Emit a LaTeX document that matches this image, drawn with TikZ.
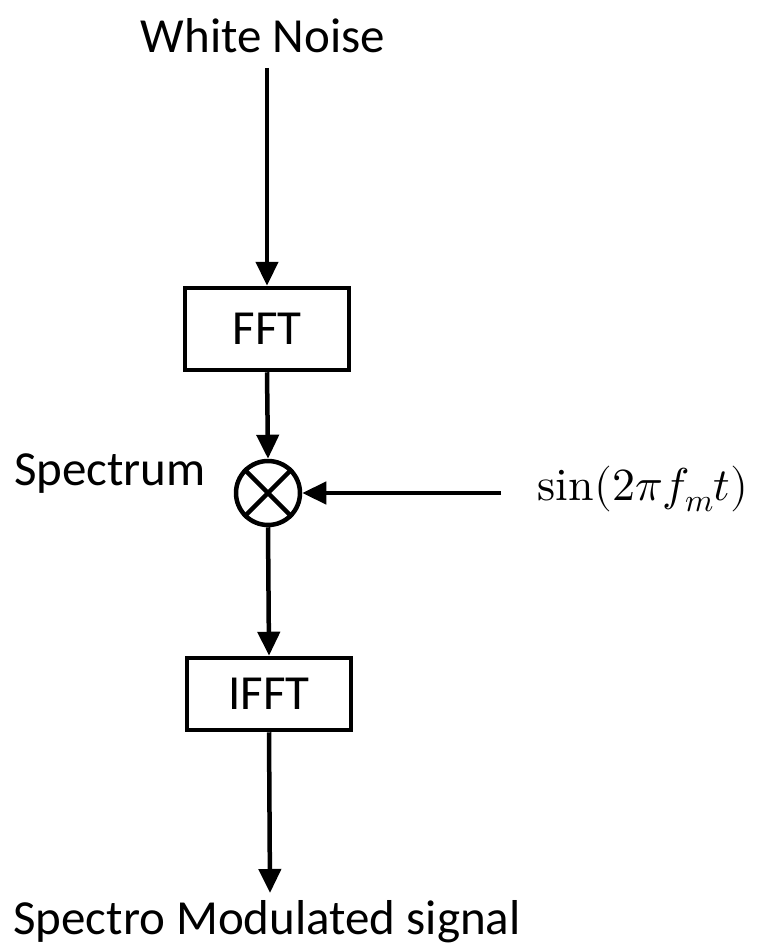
\documentclass[tikz,border=0pt]{standalone}
\usepackage{fontspec}
\usepackage{unicode-math}
\setmainfont{Carlito}
\setmathfont{Latin Modern Math}
\usetikzlibrary{arrows.meta}
\begin{document}
\begin{tikzpicture}[x=1pt,y=-1pt,
  lbl/.style={font=\fontsize{49}{56}\selectfont, inner sep=0pt},
  blk/.style={draw, line width=4.5pt, minimum width=164pt, font=\fontsize{49}{56}\selectfont},
  conn/.style={line width=4.5pt, -{Triangle[width=22pt,length=24pt]}}]
\useasboundingbox (0,0) rectangle (762,947);
\node[lbl] (wn) at (263,36) {White Noise};
\coordinate (wnb) at (267,68);
\node[blk, minimum height=82pt] (fft) at (267,329) {FFT};
\node[draw, circle, line width=4.5pt, minimum size=64pt, inner sep=0pt] (mix) at (268,493) {};
\draw[line width=4.5pt] (mix.45) -- (mix.225) (mix.135) -- (mix.315);
\node[lbl] (spec) at (110,474) {Spectrum};
\node[lbl, font=\fontsize{46}{52}\selectfont] (sin) at (643,489) {$\symup{sin}(2\pi f_m t)$};
\coordinate (sinl) at (501,493);
\node[blk, minimum height=72pt] (ifft) at (269,694) {IFFT};
\coordinate (outb) at (270,893);
\node[lbl] (out) at (267,922) {Spectro Modulated signal};
\draw[conn] (wnb) -- (fft.north);
\draw[conn] (fft.south) -- (mix.north);
\draw[conn] (sinl) -- (mix.east);
\draw[conn] (mix.south) -- (ifft.north);
\draw[conn] (ifft.south) -- (outb);
\end{tikzpicture}
\end{document}
